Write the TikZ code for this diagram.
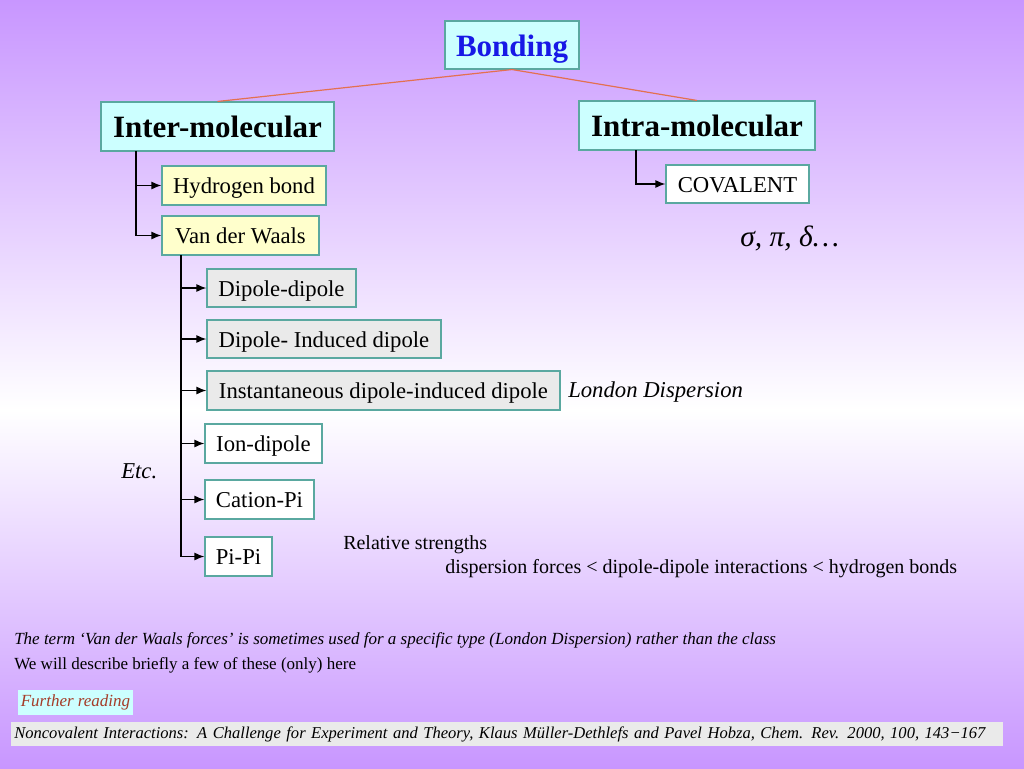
\documentclass[tikz,border=0pt]{standalone}
\usepackage{fontspec}
\setmainfont{Liberation Serif}
\usetikzlibrary{arrows.meta}
\definecolor{purp}{RGB}{200,150,255}
\definecolor{tealb}{RGB}{90,168,160}
\definecolor{cyanf}{RGB}{204,255,255}
\definecolor{yelf}{RGB}{255,255,204}
\definecolor{grayf}{RGB}{234,234,234}
\definecolor{bondblue}{RGB}{24,24,230}
\definecolor{orangel}{RGB}{228,112,80}
\definecolor{brownred}{RGB}{165,60,40}
\newcommand{\fpx}[1]{\fontsize{\the\dimexpr #1pt*3/4\relax}{\the\dimexpr #1pt*9/10\relax}\selectfont}
\tikzset{
  x=0.75pt, y=-0.75pt,
  boxn/.style={draw=tealb, line width=0.8pt, inner sep=0pt, text height=14.3pt, text depth=2.3pt},
  big/.style={boxn, fill=cyanf, font=\fpx{31}\bfseries, text height=20pt, text depth=2.8pt},
  yel/.style={boxn, fill=yelf, font=\fpx{22.7}, minimum height=29.25pt},
  gry/.style={boxn, fill=grayf, font=\fpx{22.7}, minimum height=28.5pt},
  wht/.style={boxn, fill=white, font=\fpx{22.7}, minimum height=29.25pt},
  conn/.style={line width=1.1pt, draw=black},
  arr/.style={conn, -{Latex[length=7.5pt,width=6pt]}},
  txt/.style={anchor=west, inner sep=0pt},
}
\begin{document}
\begin{tikzpicture}
\useasboundingbox (0,0) rectangle (1024,768);
\shade[top color=purp, bottom color=white] (0,0) rectangle (1024,410);
\shade[top color=white, bottom color=purp] (0,410) rectangle (1024,768.5);

% top level
\node[big, text=bondblue, minimum width=100.5pt, minimum height=36pt] (bonding) at (512,45) {Bonding};
\node[big, minimum width=174.75pt, minimum height=36.75pt] (inter) at (217.5,126.5) {Inter-molecular};
\node[big, minimum width=177pt, minimum height=36.75pt] (intra) at (697,125.5) {Intra-molecular};
\draw[orangel, line width=0.9pt] (bonding.south) -- (inter.north);
\draw[orangel, line width=0.9pt] (bonding.south) -- (intra.north);

% second level
\node[yel, minimum width=123pt] (hb) at (244,185.5) {Hydrogen bond};
\node[yel, minimum width=117.75pt] (vdw) at (240.5,235.5) {Van der Waals};
\node[wht, minimum width=107.25pt, minimum height=28.5pt] (cov) at (737.5,184) {COVALENT};

\coordinate (t1) at (136,151);
\draw[conn] (t1) -- (t1 |- vdw.west);
\draw[arr] (t1 |- hb.west) -- (hb.west);
\draw[arr] (t1 |- vdw.west) -- (vdw.west);
\coordinate (t2) at (636,150);
\draw[arr] (t2) |- (cov.west);

% third level
\node[gry, minimum width=111.75pt] (dd) at (281.5,288) {Dipole-dipole};
\node[gry, minimum width=175.5pt] (did) at (324,339) {Dipole- Induced dipole};
\node[gry, minimum width=264.75pt, minimum height=29.25pt] (idid) at (383.5,390.5) {Instantaneous dipole-induced dipole};
\node[wht, minimum width=87.75pt] (ion) at (263.5,443.5) {Ion-dipole};
\node[wht, minimum width=81.75pt] (cat) at (259.5,499.5) {Cation-Pi};
\node[wht, minimum width=50.25pt] (pipi) at (238.5,556.5) {Pi-Pi};

\coordinate (t3) at (181,255);
\draw[conn] (t3) -- (t3 |- pipi.west);
\foreach \n in {dd,did,idid,ion,cat,pipi}
  \draw[arr] (t3 |- \n.west) -- (\n.west);

% annotations
\node[txt, font=\fpx{29.5}\itshape] (greek) at (740,238) {σ, π, δ…};
\node[txt, font=\fpx{22.7}\itshape] (london) at (568,392) {London Dispersion};
\node[txt, font=\fpx{22.7}\itshape] (etc) at (121,471) {Etc.};
\node[txt, font=\fpx{20}] (rel) at (343,545) {Relative strengths};
\node[txt, font=\fpx{20}] (disp) at (445,569) {dispersion forces < dipole-dipole interactions < hydrogen bonds};

\node[txt, font=\fpx{17}\itshape] (term) at (14,640) {The term ‘Van der Waals forces’ is sometimes used for a specific type (London Dispersion) rather than the class};
\node[txt, font=\fpx{17}] (we) at (14,665) {We will describe briefly a few of these (only) here};
\node[fill=cyanf, inner sep=0pt, minimum width=86.25pt, minimum height=18.75pt, text=brownred, font=\fpx{17}\itshape] (further) at (75.5,702.5) {Further reading};
\node[fill=grayf, anchor=west, inner ysep=0pt, inner xsep=2.25pt, minimum height=18pt, text width=739.5pt, align=left, font=\fpx{16.55}\itshape] (ref) at (11,734) {\mbox{Noncovalent Interactions: A Challenge for Experiment and Theory, Klaus Müller-Dethlefs and Pavel Hobza, Chem. Rev. 2000, 100, 143−167}};
\end{tikzpicture}
\end{document}
